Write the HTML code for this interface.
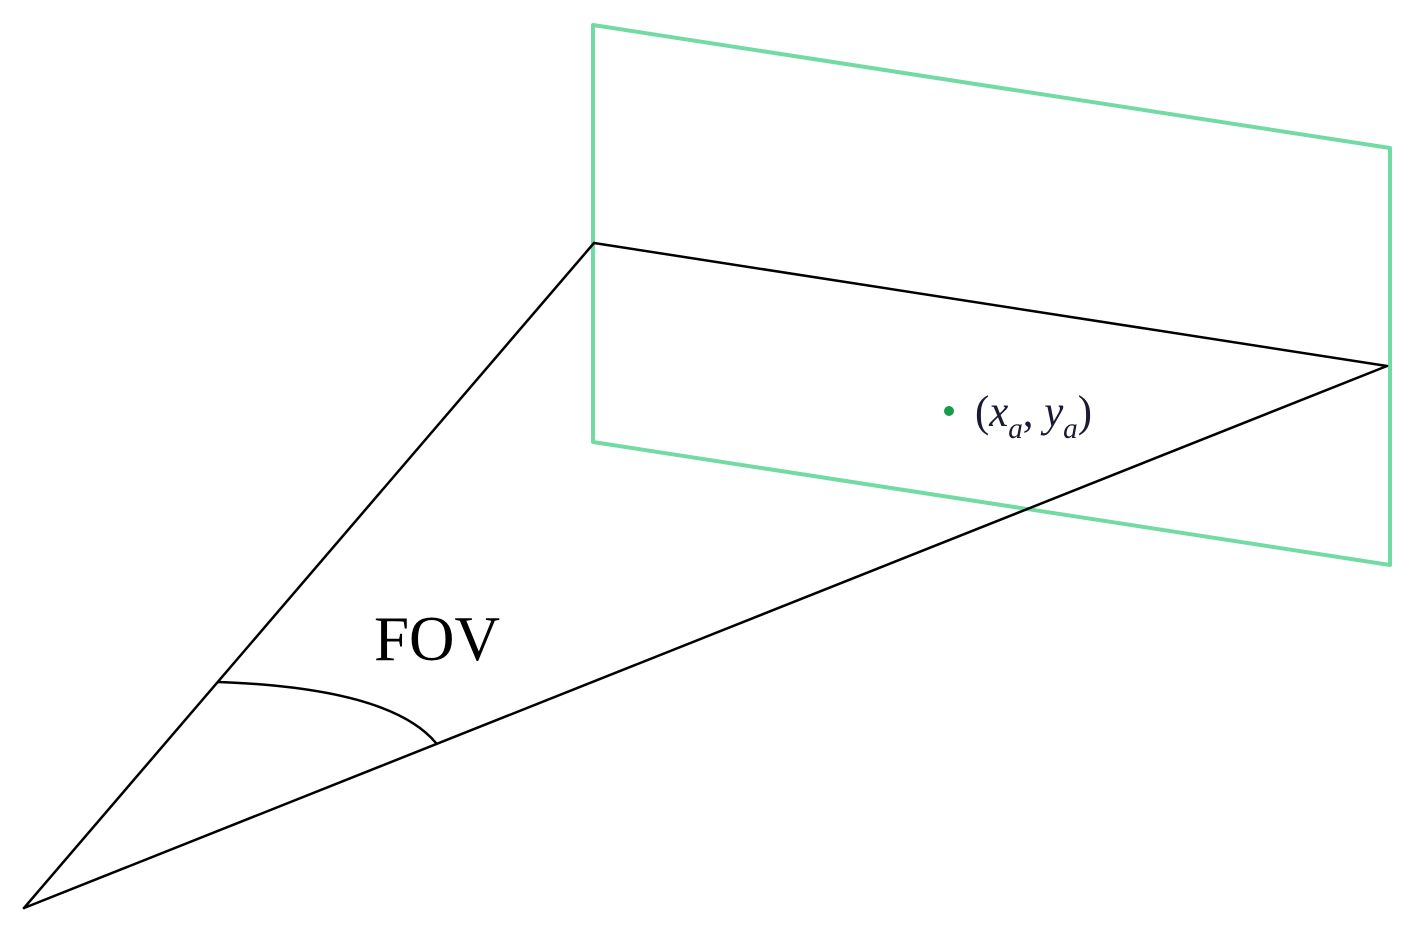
<!DOCTYPE html>
<html><head><meta charset="utf-8"><style>
html,body{margin:0;padding:0;background:#fff;}
svg{display:block;}
</style></head><body>
<svg width="1412" height="937" viewBox="0 0 1412 937" xmlns="http://www.w3.org/2000/svg">
<rect width="1412" height="937" fill="#fff"/>
<polygon points="593,25 1390,148 1390,565 593,442" fill="none" stroke="#72dba3" stroke-width="4" stroke-linejoin="round"/>
<g stroke="#000" stroke-width="2.5" fill="none" stroke-linecap="round">
<line x1="24" y1="908" x2="594" y2="243"/>
<line x1="594" y1="243" x2="1387" y2="366"/>
<line x1="24" y1="908" x2="1387" y2="366"/>
<path d="M218,682 Q390,688 436,743"/>
</g>
<text x="374" y="660" font-family="Liberation Serif, serif" font-size="64" textLength="126" lengthAdjust="spacingAndGlyphs" fill="#000">FOV</text>
<circle cx="949" cy="411" r="5" fill="#1a9a4a"/>
<text x="975" y="426" font-family="Liberation Serif, serif" font-size="44" font-style="italic" fill="#1a1a33" textLength="117" lengthAdjust="spacingAndGlyphs"><tspan font-style="normal">(</tspan>x<tspan font-size="30" dy="12">a</tspan><tspan dy="-12" font-style="normal">, </tspan>y<tspan font-size="30" dy="12">a</tspan><tspan dy="-12" font-style="normal">)</tspan></text>
</svg>
</body></html>
